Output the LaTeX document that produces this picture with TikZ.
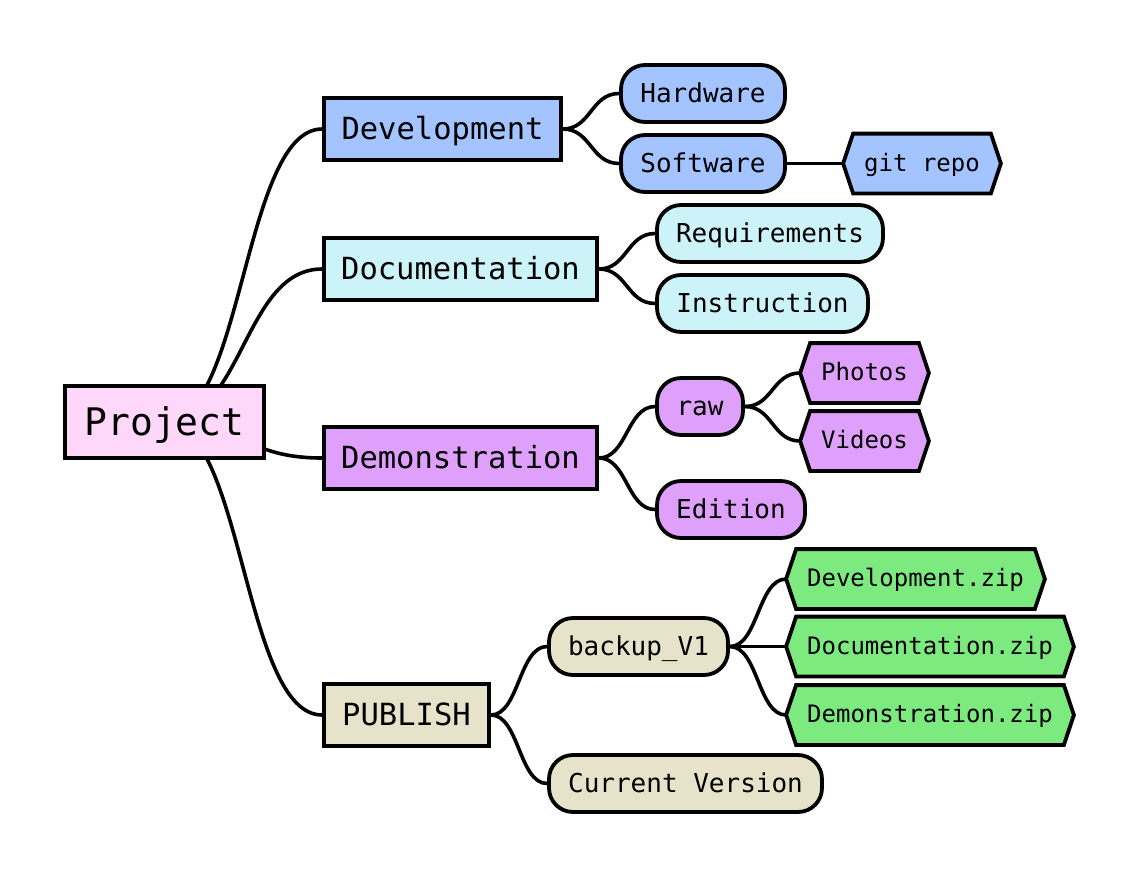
\documentclass[tikz,border=0pt]{standalone}
\usepackage{fontspec}
\setmainfont{DejaVu Sans Mono}
\setmonofont{DejaVu Sans Mono}
\usetikzlibrary{calc}
\pgfdeclarelayer{paper}
\pgfdeclarelayer{links}
\pgfdeclarelayer{bg}
\pgfsetlayers{paper,links,bg,main}
\definecolor{rootc}{HTML}{FFD7F8}
\definecolor{devc}{HTML}{A3C4FF}
\definecolor{docc}{HTML}{CCF3F8}
\definecolor{demc}{HTML}{DFA0FB}
\definecolor{pubc}{HTML}{E6E3CA}
\definecolor{zipc}{HTML}{7DEA80}
\tikzset{
  base/.style={inner sep=0pt, text=black, line width=3.8pt},
  lvlzero/.style={base, draw, rectangle, fill=rootc, minimum width=199pt, minimum height=72pt, text height=30pt, text depth=3.8pt, font=\fontsize{38}{40}\selectfont},
  lvlone/.style={base, draw, rectangle, minimum height=62pt, text height=24pt, text depth=3pt, font=\fontsize{30.5}{32}\selectfont},
  lvltwo/.style={base, draw, rounded corners=24pt, minimum height=57pt, text height=20pt, text depth=1.8pt, font=\fontsize{26}{28}\selectfont},
  lvlthree/.style={base, minimum height=56pt, text height=18pt, text depth=2.6pt, font=\fontsize{24}{26}\selectfont},
  link/.style={line width=3.6pt, draw=black},
  hexline/.style={line width=3.8pt, draw=black, line join=miter}
}
\newcommand\mmlink[2]{%
  \begin{pgfonlayer}{links}
  \draw[link] let \p1=(#1), \p2=(#2) in
    (\p1) .. controls ({0.5*\x1+0.5*\x2},\y1) and ({0.5*\x1+0.5*\x2},\y2) .. (\p2);
  \end{pgfonlayer}}
\newcommand\hexbg[2]{%
  \begin{pgfonlayer}{bg}
  \draw[hexline, fill=#2] (#1.west) -- ([xshift=10pt]#1.north west) -- ([xshift=-10pt]#1.north east)
    -- (#1.east) -- ([xshift=-10pt]#1.south east) -- ([xshift=10pt]#1.south west) -- cycle;
  \end{pgfonlayer}}
\begin{document}
\begin{tikzpicture}[x=1pt,y=-1pt]
\useasboundingbox (0,0) rectangle (1138,879);
\begin{pgfonlayer}{paper}
\fill[white] (0,0) rectangle (1138,879);
\end{pgfonlayer}
% root
\node[lvlzero] (root) at (164.5,422) {Project};
% level 1
\node[lvlone, fill=devc, minimum width=237pt] (dev) at (442.5,129) {Development};
\node[lvlone, fill=docc, minimum width=273pt] (doc) at (460.5,269) {Documentation};
\node[lvlone, fill=demc, minimum width=273pt] (dem) at (460.5,458) {Demonstration};
\node[lvlone, fill=pubc, minimum width=165pt] (pub) at (406.5,715) {PUBLISH};
% level 2
\node[lvltwo, fill=devc, minimum width=164pt] (hw) at (703,93.5) {Hardware};
\node[lvltwo, fill=devc, minimum width=164pt] (sw) at (703,163.5) {Software};
\node[lvltwo, fill=docc, minimum width=226pt] (req) at (770,233.5) {Requirements};
\node[lvltwo, fill=docc, minimum width=211pt] (ins) at (762.5,303.5) {Instruction};
\node[lvltwo, fill=demc, minimum width=86pt] (raw) at (700,406.5) {raw};
\node[lvltwo, fill=demc, minimum width=148pt] (edi) at (731,509.5) {Edition};
\node[lvltwo, fill=pubc, minimum width=179pt] (bak) at (638.5,646.5) {backup\_V1};
\node[lvltwo, fill=pubc, minimum width=273pt] (cur) at (685.5,783.5) {Current Version};
% level 3
\node[lvlthree, minimum width=154pt] (git) at (922,163.5) {git repo};
\node[lvlthree, minimum width=125pt] (photos) at (864.5,373) {Photos};
\node[lvlthree, minimum width=125pt] (videos) at (864.5,441) {Videos};
\node[lvlthree, minimum width=255pt] (dzip) at (915.5,579) {Development.zip};
\node[lvlthree, minimum width=284pt] (doczip) at (930,646.5) {Documentation.zip};
\node[lvlthree, minimum width=284pt] (demzip) at (930,715) {Demonstration.zip};
\hexbg{git}{devc}
\hexbg{photos}{demc}
\hexbg{videos}{demc}
\hexbg{dzip}{zipc}
\hexbg{doczip}{zipc}
\hexbg{demzip}{zipc}
% links
\mmlink{root.center}{dev.west}
\mmlink{root.center}{doc.west}
\mmlink{root.center}{dem.west}
\mmlink{root.center}{pub.west}
\mmlink{dev.east}{hw.west}
\mmlink{dev.east}{sw.west}
\mmlink{sw.east}{git.west}
\mmlink{doc.east}{req.west}
\mmlink{doc.east}{ins.west}
\mmlink{dem.east}{raw.west}
\mmlink{dem.east}{edi.west}
\mmlink{raw.east}{photos.west}
\mmlink{raw.east}{videos.west}
\mmlink{pub.east}{bak.west}
\mmlink{pub.east}{cur.west}
\mmlink{bak.east}{dzip.west}
\mmlink{bak.east}{doczip.west}
\mmlink{bak.east}{demzip.west}
\end{tikzpicture}
\end{document}
